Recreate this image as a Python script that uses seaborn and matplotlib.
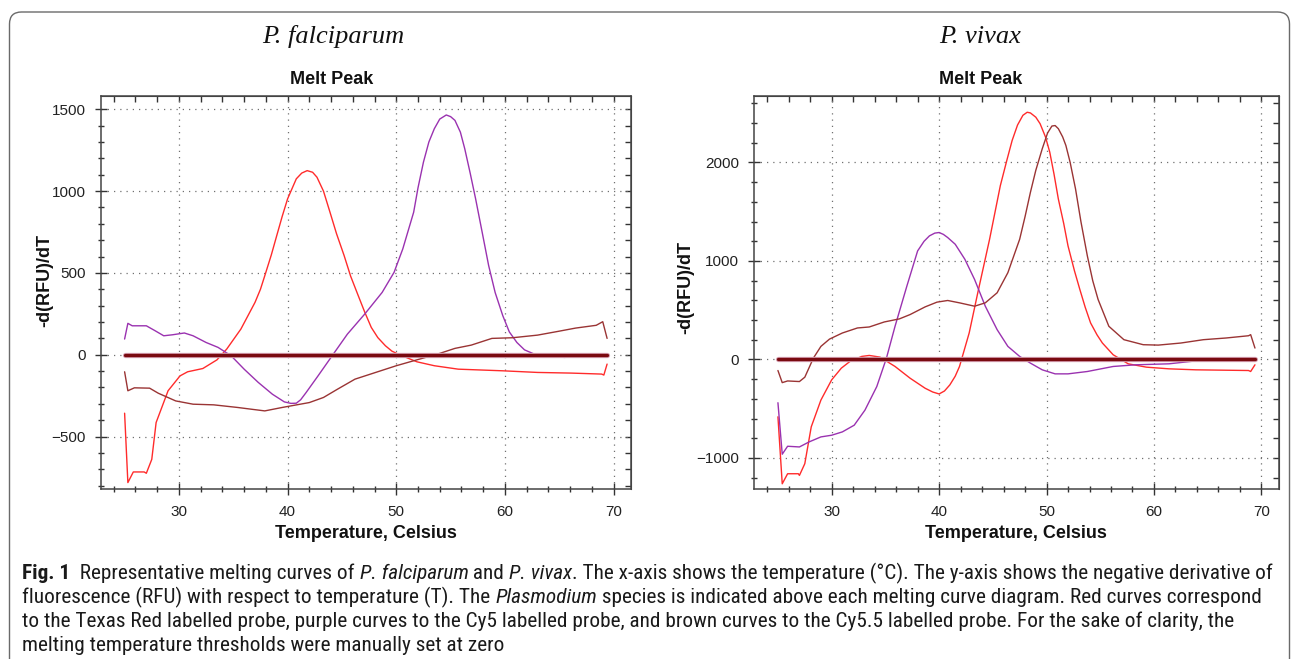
import matplotlib
matplotlib.use("Agg")
import matplotlib.pyplot as plt
import seaborn as sns
from matplotlib.ticker import MultipleLocator, NullFormatter
from matplotlib.patches import FancyBboxPatch
from matplotlib.transforms import IdentityTransform
from matplotlib import font_manager

# ---------------- data: P. falciparum ----------------
pf_red_t = [25.0, 25.3, 25.8, 26.8, 27.0, 27.5, 27.9, 29.0, 30.1, 30.8, 32.2, 33.5, 34.4, 35.7,
            37.0, 37.5, 37.9, 38.5, 39.0, 39.5, 40.0, 40.8, 41.3, 41.8, 42.3, 42.7, 43.3, 43.9,
            44.5, 45.2, 45.8, 46.5, 47.1, 47.7, 48.3, 49.0, 49.6, 50.3, 51.9,
            53.5, 55.7, 59.8, 63.0, 66.1, 68.9, 69.1, 69.4]
pf_red_v = [-357, -781, -716, -716, -724, -639, -414, -220, -129, -104, -84, -31, 35, 157,
            320, 400, 483, 610, 728, 845, 953, 1075, 1110, 1125, 1115, 1085, 1000, 871,
            740, 606, 480, 361, 260, 167, 105, 55, 22, 0, -43,
            -67, -88, -98, -108, -112, -118, -124, -57]

pf_pur_t = [25.0, 25.3, 25.7, 27.0, 27.8, 28.6, 29.4, 30.5, 31.3, 32.5, 33.6, 34.8, 36.0, 37.3,
            38.6, 39.7, 40.3, 40.8, 41.2, 41.7, 42.8, 44.1, 45.5, 47.1, 48.7, 49.8, 50.6, 51.6,
            52.0, 52.5, 53.0, 53.5, 54.0, 54.6, 55.0, 55.4, 55.9, 56.3, 56.8, 57.3, 57.9, 58.5,
            59.1, 59.8, 60.4, 61.1, 61.8, 62.7, 64.3, 65.5, 67.4]
pf_pur_v = [96, 192, 177, 177, 147, 116, 122, 133, 116, 75, 45, -6, -88, -169,
            -241, -288, -297, -296, -275, -231, -129, -6, 126, 249, 381, 504, 647, 871,
            1020, 1177, 1300, 1381, 1440, 1465, 1455, 1432, 1360, 1259, 1110, 953, 750, 545,
            380, 239, 140, 75, 30, 4, -12, -16, -6]

pf_brn_t = [25.0, 25.3, 25.9, 27.3, 28.1, 29.7, 31.3, 33.2, 35.4, 36.7, 37.9, 39.5, 42.0, 43.3,
            44.6, 46.2, 48.1, 50.0, 51.9, 53.8, 55.4, 56.9, 58.8, 60.7, 63.0, 64.9, 66.5, 68.4,
            69.0, 69.4]
pf_brn_v = [-104, -220, -202, -204, -235, -282, -302, -306, -322, -333, -343, -322, -292, -261,
            -210, -149, -108, -67, -31, 4, 39, 59, 100, 104, 120, 143, 163, 180,
            202, 100]

# ---------------- data: P. vivax ----------------
pv_red_t = [25.0, 25.4, 25.9, 26.9, 27.0, 27.5, 28.1, 29.0, 30.0, 30.9, 31.7, 32.8, 33.5, 34.5,
            35.9, 37.3, 38.7, 39.4, 40.0, 40.5, 41.0, 41.5, 41.9, 42.8, 43.6, 44.7, 45.7, 46.3,
            46.8, 47.3, 47.8, 48.2, 48.5, 49.0, 49.4, 49.9, 50.3, 50.7, 51.1, 51.6, 52.0, 52.6,
            53.1, 53.6, 54.1, 54.7, 55.2, 56.2, 57.6, 59.3, 61.4, 63.9, 66.7, 68.8, 69.0, 69.4]
pv_red_v = [-582, -1262, -1160, -1160, -1177, -1058, -684, -412, -207, -88, -20, 31, 41, 24,
            -71, -190, -292, -330, -350, -320, -258, -170, -71, 269, 677, 1221, 1765, 2020,
            2224, 2380, 2479, 2510, 2503, 2460, 2394, 2260, 2105, 1880, 1629, 1380, 1153, 900,
            711, 530, 371, 250, 167, 48, -44, -78, -95, -105, -109, -112, -122, -54]

pv_pur_t = [25.0, 25.4, 25.9, 27.0, 27.9, 29.0, 30.0, 31.0, 32.1, 33.1, 34.2, 35.1, 35.9, 37.0,
            38.0, 38.6, 39.1, 39.6, 40.0, 40.4, 40.8, 41.5, 42.4, 43.3, 44.3, 45.4, 46.4, 47.5,
            48.5, 49.6, 50.8, 52.0, 53.8, 56.2, 58.3, 61.4, 63.9, 65.8]
pv_pur_v = [-439, -962, -881, -888, -837, -786, -769, -735, -667, -514, -275, 14, 337, 745,
            1102, 1200, 1255, 1283, 1289, 1270, 1238, 1170, 1017, 813, 541, 303, 133, 31,
            -37, -105, -146, -146, -122, -71, -54, -44, -14, -10]

pv_brn_t = [25.0, 25.4, 25.9, 27.0, 27.5, 28.3, 29.0, 29.8, 31.0, 32.4, 33.5, 34.9, 36.3, 37.3,
            38.7, 39.8, 40.8, 41.9, 43.3, 44.3, 45.4, 46.4, 47.5, 48.0, 48.5, 49.0, 49.6, 50.1,
            50.5, 50.8, 51.1, 51.5, 51.8, 52.2, 52.7, 53.2, 53.8, 54.3, 54.8, 55.8, 57.2, 59.0,
            60.4, 62.5, 64.6, 66.7, 68.8, 69.0, 69.4]
pv_brn_v = [-112, -235, -218, -224, -180, 14, 133, 207, 269, 320, 330, 381, 412, 456,
            534, 582, 599, 575, 541, 575, 677, 881, 1221, 1450, 1697, 1920, 2139, 2300,
            2370, 2375, 2343, 2260, 2173, 2000, 1731, 1400, 1051, 800, 609, 337, 201, 150,
            146, 167, 201, 218, 241, 252, 116]

zero_t = [25.0, 69.4]
zero_v = [0, 0]

species = ["P. falciparum", "P. vivax"]
x_ticks = [30, 40, 50, 60, 70]

RED = "#ff2b2b"
PURPLE = "#9a32b0"
BROWN = "#9a3434"
ZERO = "#7a0a10"

sns.set_style("ticks")
plt.rcParams["font.family"] = ["Liberation Sans", "DejaVu Sans"]

W, H = 1295, 659
fig = plt.figure(figsize=(W / 100, H / 100), dpi=100)


def px_axes(l, t, r, b):
    return fig.add_axes([l / W, 1 - b / H, (r - l) / W, (b - t) / H])


def ftext(x, y, s, **kw):
    return fig.text(x / W, 1 - y / H, s, **kw)


def panel(ax, curves, ylim, ymaj, ymin):
    for t, v, c in curves:
        sns.lineplot(x=t, y=v, ax=ax, color=c, lw=1.0, estimator=None, sort=False, legend=False)
    sns.lineplot(x=zero_t, y=zero_v, ax=ax, color="#d9a6b8", lw=3.8, estimator=None, legend=False)
    sns.lineplot(x=zero_t, y=zero_v, ax=ax, color=ZERO, lw=2.4, estimator=None, legend=False)
    ax.set_xlim(22.8, 71.6)
    ax.set_ylim(*ylim)
    ax.set_xticks(x_ticks)
    ax.xaxis.set_minor_locator(MultipleLocator(2))
    ax.yaxis.set_major_locator(MultipleLocator(ymaj))
    ax.yaxis.set_minor_locator(MultipleLocator(ymin))
    ax.grid(True, which="major", ls=(0, (1, 4)), color="#707070", lw=0.9)
    ax.grid(False, which="minor")
    ax.tick_params(which="major", direction="inout", length=8, width=1.0, labelsize=11,
                   pad=7, colors="#333333", labelcolor="#222222")
    ax.tick_params(which="minor", direction="inout", length=5, width=1.0, colors="#333333")
    ax.set_xlabel("")
    ax.set_ylabel("")
    for s in ax.spines.values():
        s.set_visible(True)
        s.set_color("#444444")
        s.set_linewidth(1.1)
    secx = ax.secondary_xaxis("top")
    secx.xaxis.set_major_locator(MultipleLocator(2))
    secx.xaxis.set_major_formatter(NullFormatter())
    secx.tick_params(direction="in", length=4, width=1.0, colors="#333333")
    secx.spines["top"].set_color("#444444")
    secy = ax.secondary_yaxis("right")
    secy.yaxis.set_major_locator(MultipleLocator(ymin))
    secy.yaxis.set_major_formatter(NullFormatter())
    secy.tick_params(direction="in", length=4, width=1.0, colors="#333333")
    secy.spines["right"].set_color("#444444")


axL = px_axes(100.7, 96, 631, 489.3)
axR = px_axes(754.3, 96, 1278.6, 489.3)

panel(axL, [(pf_red_t, pf_red_v, RED), (pf_pur_t, pf_pur_v, PURPLE), (pf_brn_t, pf_brn_v, BROWN)],
      (-822, 1581), 500, 100)
panel(axR, [(pv_red_t, pv_red_v, RED), (pv_pur_t, pv_pur_v, PURPLE), (pv_brn_t, pv_brn_v, BROWN)],
      (-1318, 2675), 1000, 200)

# titles and labels
serif = ["Liberation Serif", "DejaVu Serif"]
ftext(333, 37, species[0], family=serif, style="italic", fontsize=19, ha="center", va="center", color="#111")
ftext(980, 37, species[1], family=serif, style="italic", fontsize=19, ha="center", va="center", color="#111")
for x in (332, 981):
    ftext(x, 80, "Melt Peak", fontsize=13, fontweight="bold", ha="center", va="center", color="#111")
for x, y in ((45, 280), (686, 287)):
    ftext(x, y, "-d(RFU)/dT", fontsize=13, fontweight="bold", rotation=90, ha="center", va="center", color="#111")
for x in (366, 1016):
    ftext(x, 533, "Temperature, Celsius", fontsize=13, fontweight="bold", ha="center", va="center", color="#111")

# card border
card = FancyBboxPatch((9.5, -40), 1280, H - 12 + 40, boxstyle="round,pad=0,rounding_size=12",
                      transform=IdentityTransform(), fill=False, edgecolor="#6a6a6a", lw=1.0)
fig.add_artist(card)

# caption
names = {f.name for f in font_manager.fontManager.ttflist}
cap_family = "Liberation Sans"
for cand in ["Liberation Sans Narrow", "DejaVu Sans Condensed", "Roboto Condensed", "Open Sans Condensed"]:
    if cand in names:
        cap_family = cand
        break
cap_fam = [cap_family, "DejaVu Sans"]

lines = [
    [("Fig. 1", "b"), ("  Representative melting curves of ", "n"), ("P. falciparum", "i"), (" and ", "n"),
     ("P. vivax", "i"), (". The x-axis shows the temperature (°C). The y-axis shows the negative derivative of", "n")],
    [("fluorescence (RFU) with respect to temperature (T). The ", "n"), ("Plasmodium", "i"),
     (" species is indicated above each melting curve diagram. Red curves correspond", "n")],
    [("to the Texas Red labelled probe, purple curves to the Cy5 labelled probe, and brown curves to the Cy5.5 labelled probe. For the sake of clarity, the", "n")],
    [("melting temperature thresholds were manually set at zero", "n")],
]

fig.canvas.draw()
renderer = fig.canvas.get_renderer()


def seg_kw(st, size):
    kw = dict(fontsize=size, family=cap_fam, color="#1a1a1a", va="baseline", ha="left")
    if st == "b":
        kw["fontweight"] = "bold"
    if st == "i":
        kw["style"] = "italic"
    return kw


def line_width(segs, size):
    w = 0
    for s, st in segs:
        t = fig.text(0, 0, s, **seg_kw(st, size))
        w += t.get_window_extent(renderer).width
        t.remove()
    return w


base = 12
w1 = line_width(lines[0], base)
size = base * (1275 - 22) / w1

baselines = [579, 603, 627, 651]
for segs, yb in zip(lines, baselines):
    x = 22
    for s, st in segs:
        t = ftext(x, yb, s, **seg_kw(st, size))
        x += t.get_window_extent(renderer).width

fig.savefig("out.png", dpi=100)
